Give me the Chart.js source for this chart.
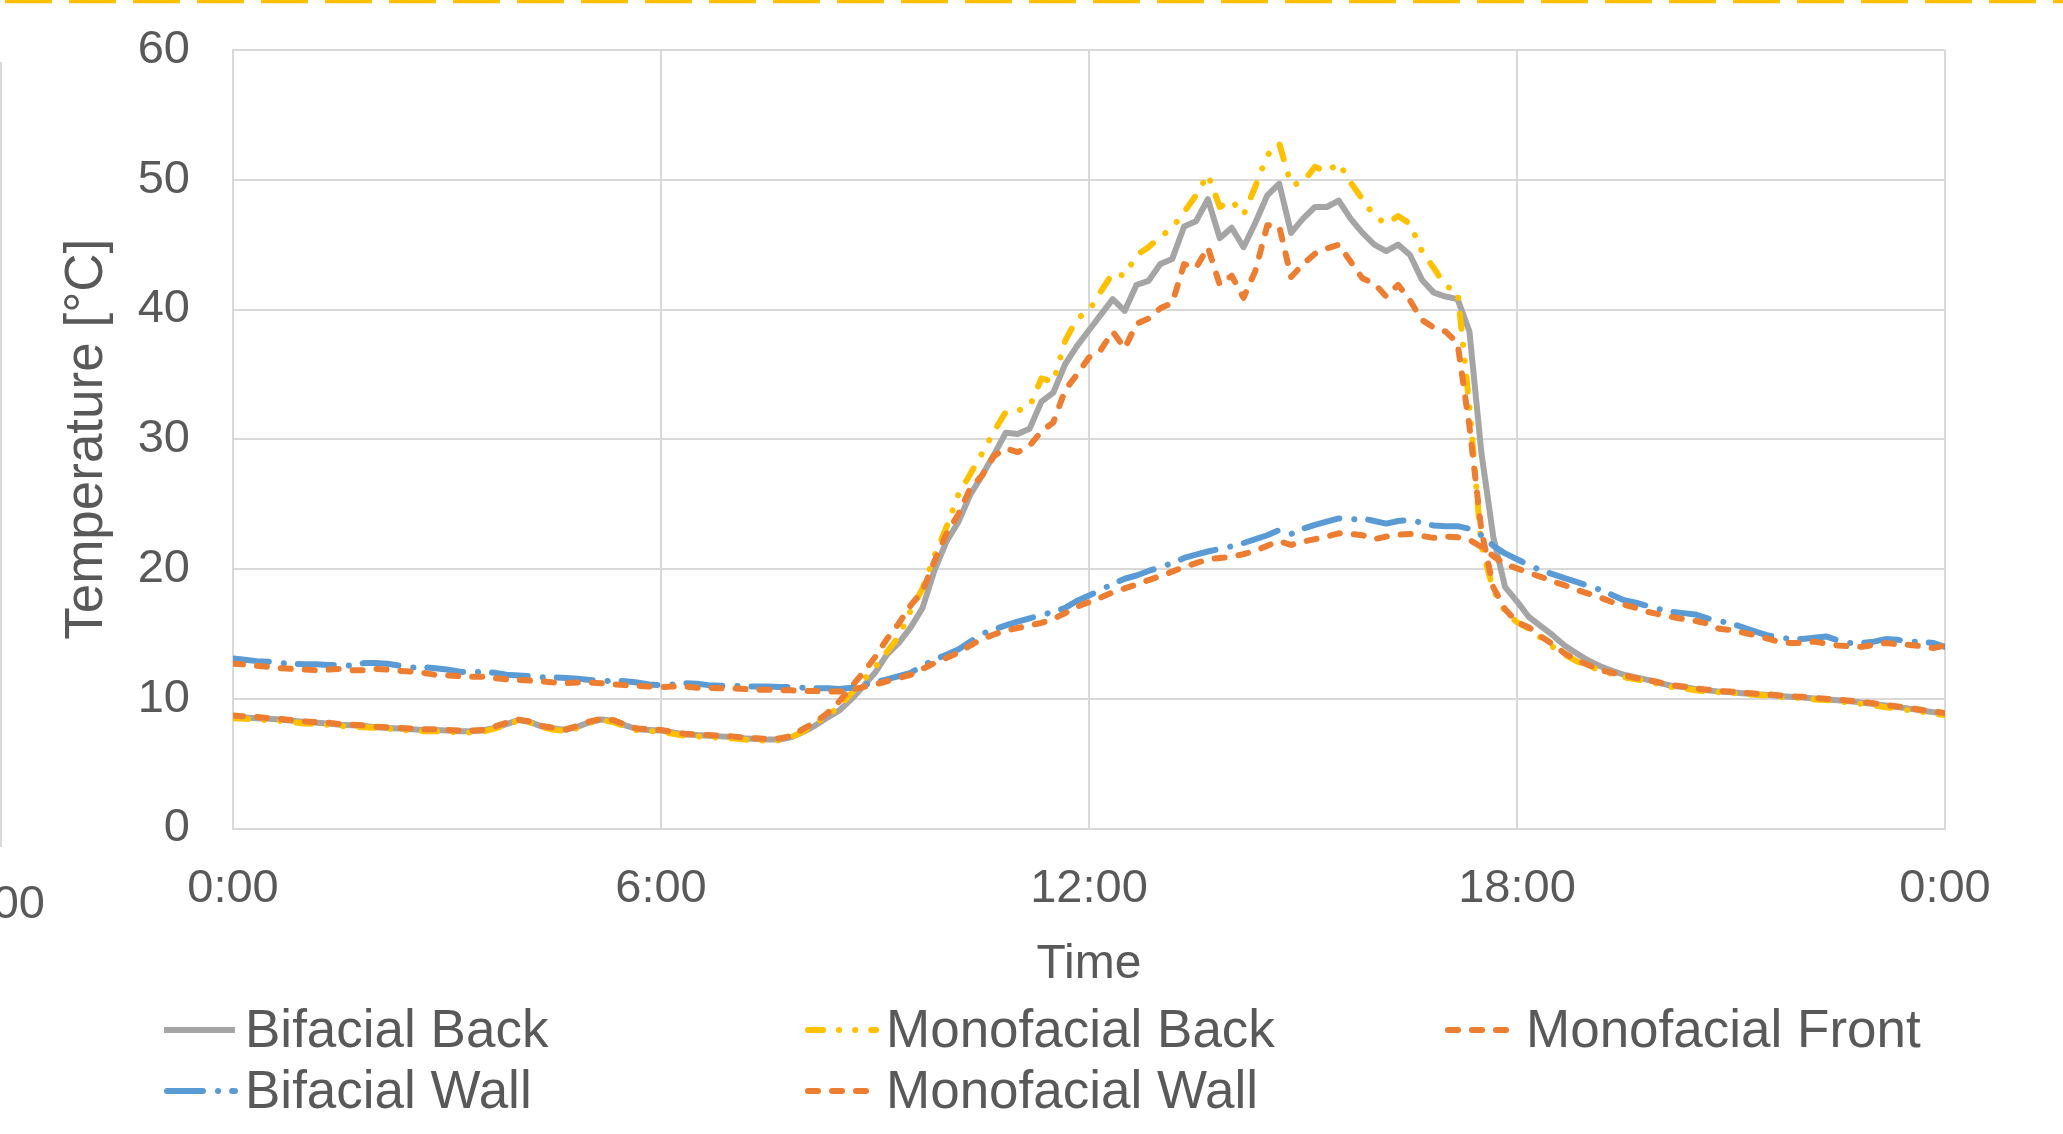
<!DOCTYPE html>
<html>
<head>
<meta charset="utf-8">
<title>Module temperatures</title>
<script src="https://cdn.jsdelivr.net/npm/chart.js@4.4.1/dist/chart.umd.min.js"></script>
<style>
  html, body { margin: 0; padding: 0; background: #ffffff; }
  #chart-box { width: 2063px; height: 1134px; }
</style>
</head>
<body>
<div id="chart-box"><canvas id="myChart" width="2063" height="1134"></canvas></div>
<script>
const ctx = document.querySelector('#myChart');

// one reading every 10 minutes, 0:00 -> 24:00
const STEP_MINUTES = 10;
const tickLabels = ['0:00', '6:00', '12:00', '18:00', '0:00'];
const seriesNames = ['Bifacial Back', 'Monofacial Back', 'Monofacial Front',
  'Bifacial Wall', 'Monofacial Wall'];

const bifacialBack = [
  8.6, 8.55, 8.5, 8.45, 8.4, 8.3, 8.2, 8.15, 8.1, 8.0, 7.95, 7.9,
  7.8, 7.75, 7.7, 7.65, 7.6, 7.6, 7.55, 7.5, 7.5, 7.55, 7.75, 8.05,
  8.35, 8.2, 7.85, 7.7, 7.6, 7.85, 8.2, 8.4, 8.3, 7.95, 7.65, 7.6,
  7.55, 7.4, 7.25, 7.2, 7.15, 7.1, 7.05, 6.95, 6.9, 6.85, 6.85, 7.05,
  7.45, 7.95, 8.55, 9.1, 9.95, 10.95, 12.0, 13.4, 14.3, 15.5, 17.0, 19.9,
  22.1, 23.6, 25.7, 27.2, 28.8, 30.5, 30.4, 30.8, 32.9, 33.6, 35.8, 37.2,
  38.4, 39.6, 40.8, 39.9, 41.9, 42.2, 43.5, 43.9, 46.4, 46.8, 48.5, 45.5,
  46.3, 44.8, 46.7, 48.8, 49.7, 45.9, 47.0, 47.9, 47.9, 48.4, 47.0, 45.9,
  45.0, 44.5, 45.0, 44.2, 42.3, 41.3, 41.0, 40.8, 38.3, 29.0, 22.5, 18.6,
  17.5, 16.3, 15.6, 14.9, 14.1, 13.5, 12.95, 12.5, 12.15, 11.85, 11.65, 11.45,
  11.2, 11.0, 10.9, 10.75, 10.65, 10.55, 10.5, 10.42, 10.35, 10.3, 10.22, 10.15,
  10.1, 10.02, 9.95, 9.88, 9.8, 9.7, 9.6, 9.48, 9.36, 9.24, 9.1, 8.97,
  8.83,
];

const monofacialBack = [
  8.5, 8.45, 8.4, 8.35, 8.3, 8.2, 8.1, 8.05, 8.0, 7.9, 7.85, 7.8,
  7.75, 7.7, 7.6, 7.55, 7.5, 7.5, 7.45, 7.4, 7.4, 7.45, 7.7, 8.0,
  8.3, 8.15, 7.8, 7.6, 7.5, 7.75, 8.15, 8.35, 8.2, 7.85, 7.55, 7.5,
  7.45, 7.3, 7.15, 7.1, 7.05, 7.0, 6.95, 6.85, 6.8, 6.75, 6.8, 7.05,
  7.5, 8.1, 8.7, 9.4, 10.4, 11.4, 12.4, 13.6, 14.8, 16.8, 18.5, 21.0,
  23.2, 25.7, 27.3, 28.9, 30.6, 32.1, 32.2, 32.5, 34.7, 34.4, 37.6, 39.3,
  39.9, 41.4, 42.8, 42.6, 44.2, 44.8, 45.6, 46.3, 47.5, 48.8, 50.4, 47.9,
  48.4, 47.3, 49.5, 51.9, 52.8, 49.6, 49.8, 51.0, 50.6, 51.3, 49.8, 48.5,
  47.2, 46.6, 47.2, 46.6, 44.5, 43.2, 41.8, 41.4, 32.5, 21.8, 18.4, 16.7,
  15.9, 15.4, 14.7, 14.0, 13.4, 12.9, 12.5, 12.2, 11.9, 11.65, 11.5, 11.35,
  11.1, 10.9, 10.8, 10.65, 10.55, 10.5, 10.45, 10.35, 10.3, 10.25, 10.15, 10.1,
  10.05, 9.95, 9.9, 9.8, 9.7, 9.6, 9.5, 9.35, 9.25, 9.1, 9.0, 8.85,
  8.75,
];

const monofacialFront = [
  8.7, 8.65, 8.6, 8.5, 8.45, 8.35, 8.25, 8.2, 8.15, 8.05, 8.0, 7.95,
  7.85, 7.8, 7.75, 7.7, 7.65, 7.65, 7.6, 7.55, 7.55, 7.6, 7.85, 8.15,
  8.4, 8.25, 7.9, 7.75, 7.65, 7.9, 8.25, 8.45, 8.35, 8.0, 7.7, 7.65,
  7.6, 7.45, 7.3, 7.25, 7.2, 7.15, 7.1, 7.0, 6.95, 6.9, 6.95, 7.15,
  7.7, 8.2, 8.9, 9.8, 10.9, 12.0, 13.2, 14.6, 15.8, 17.2, 18.3, 20.6,
  22.7, 24.2, 26.2, 27.2, 28.7, 29.3, 29.0, 29.5, 30.6, 31.3, 33.8, 35.0,
  36.3, 36.9, 38.3, 37.0, 38.9, 39.3, 40.1, 40.5, 43.5, 43.2, 44.8, 41.9,
  42.6, 40.9, 43.0, 46.5, 46.4, 42.5, 43.5, 44.3, 44.7, 45.0, 43.7, 42.4,
  42.0, 41.0, 41.9, 40.7, 39.2, 38.6, 38.3, 37.4, 31.0, 23.0, 18.6, 16.9,
  15.9, 15.5, 14.8, 14.2, 13.5, 13.0, 12.6, 12.2, 12.0, 11.8, 11.6, 11.45,
  11.25, 11.05, 10.95, 10.8, 10.7, 10.6, 10.55, 10.47, 10.4, 10.35, 10.27, 10.2,
  10.15, 10.07, 10.0, 9.93, 9.85, 9.75, 9.65, 9.53, 9.41, 9.29, 9.15, 9.02,
  8.9,
];

const bifacialWall = [
  13.1, 13.0, 12.9, 12.85, 12.75, 12.7, 12.65, 12.65, 12.6, 12.6, 12.55, 12.75,
  12.75, 12.7, 12.55, 12.4, 12.45, 12.35, 12.25, 12.1, 12.0, 12.1, 12.0, 11.85,
  11.8, 11.75, 11.65, 11.65, 11.6, 11.55, 11.45, 11.35, 11.4, 11.35, 11.25, 11.1,
  11.05, 11.1, 11.2, 11.15, 11.05, 11.0, 11.0, 10.95, 10.95, 10.95, 10.9, 10.9,
  10.85, 10.8, 10.8, 10.75, 10.85, 11.05, 11.25, 11.5, 11.75, 12.0, 12.55, 13.0,
  13.4, 13.8, 14.4, 15.0, 15.35, 15.65, 15.95, 16.2, 16.45, 16.7, 17.0, 17.55,
  17.95, 18.4, 18.85, 19.25, 19.5, 19.85, 20.15, 20.45, 20.85, 21.1, 21.35, 21.55,
  21.75, 22.0, 22.3, 22.6, 23.0, 22.7, 23.1, 23.4, 23.65, 23.9, 23.8, 23.9,
  23.7, 23.5, 23.7, 23.8, 23.55, 23.35, 23.3, 23.3, 23.1, 22.6, 21.8, 21.2,
  20.75, 20.3, 19.9, 19.6, 19.3, 19.0, 18.7, 18.4, 18.0, 17.6, 17.4, 17.15,
  16.9, 16.7, 16.6, 16.5, 16.2, 16.0, 15.8, 15.5, 15.2, 14.9, 14.75, 14.6,
  14.6, 14.7, 14.8, 14.5, 14.3, 14.3, 14.4, 14.6, 14.55, 14.4, 14.4, 14.3,
  14.0,
];

const monofacialWall = [
  12.7, 12.65, 12.55, 12.45, 12.35, 12.3, 12.25, 12.2, 12.25, 12.3, 12.2, 12.2,
  12.3, 12.25, 12.15, 12.1, 12.0, 11.85, 11.8, 11.75, 11.7, 11.7, 11.6, 11.5,
  11.45, 11.4, 11.35, 11.25, 11.2, 11.25, 11.25, 11.2, 11.1, 11.05, 11.0, 10.95,
  10.9, 10.95, 10.95, 10.85, 10.85, 10.8, 10.8, 10.75, 10.7, 10.7, 10.65, 10.65,
  10.6, 10.6, 10.55, 10.55, 10.7, 10.9, 11.1, 11.35, 11.6, 11.85, 12.3, 12.75,
  13.15, 13.55, 14.1, 14.6, 14.95, 15.25, 15.45, 15.65, 15.85, 16.15, 16.6, 17.1,
  17.45, 17.8, 18.2, 18.5, 18.8, 19.15, 19.45, 19.8, 20.15, 20.45, 20.75, 20.85,
  20.95, 21.15, 21.4, 21.8, 22.15, 21.85, 22.1, 22.3, 22.5, 22.75, 22.7, 22.6,
  22.3, 22.5, 22.65, 22.7, 22.55, 22.4, 22.5, 22.45, 22.25, 21.7, 21.0, 20.35,
  20.05, 19.7, 19.4, 19.05, 18.75, 18.4, 18.1, 17.8, 17.45, 17.25, 17.0, 16.7,
  16.5, 16.3, 16.15, 16.0, 15.8, 15.4, 15.3, 15.1, 14.9, 14.65, 14.4, 14.3,
  14.3, 14.4, 14.25, 14.1, 14.05, 14.0, 14.15, 14.3, 14.2, 14.15, 14.05, 13.9,
  14.1,
];

const COLOR_GREY = '#A5A5A5';
const COLOR_GOLD = '#FFC000';
const COLOR_ORANGE = '#ED7D31';
const COLOR_BLUE = '#5B9BD5';
const COLOR_TEXT = '#595959';
const COLOR_GRID = '#D9D9D9';
const FONT_FAMILY = '"Liberation Sans", Arial, sans-serif';
const LINE_WIDTH = 6;

const DASH_SOLID = [];
const DASH_LONG_DOT_DOT = [15, 16, 0.1, 16, 0.1, 16];
const DASH_LONG_DOT = [36, 15, 0.1, 14];
const DASH_SHORT = [10, 14];

/**
 * Turns a list of readings into {x, y} points, x in minutes.
 * @param {number[]} values Temperatures.
 * @return {Object[]} Points for the line.
 */
function toPoints(values) {
  return values.map((v, i) => ({x: i * STEP_MINUTES, y: v}));
}

/**
 * Builds one line dataset.
 * @return {Object} Chart.js dataset.
 */
function buildDataset(label, values, color, dash, order) {
  return {
    label: label,
    data: toPoints(values),
    borderColor: color,
    backgroundColor: color,
    borderWidth: LINE_WIDTH,
    borderDash: dash,
    borderCapStyle: dash.length ? 'round' : 'butt',
    borderJoinStyle: 'round',
    pointRadius: 0,
    pointHoverRadius: 0,
    tension: 0,
    fill: false,
    order: order,
  };
}

// legend is laid out in fixed columns like the original figure
const legendPlugin = {
  id: 'columnLegend',
  afterDraw(chart) {
    const c = chart.ctx;
    const cols = [164, 805, 1445];
    const rows = [1030, 1091];
    c.save();
    c.font = '53px ' + FONT_FAMILY;
    c.textBaseline = 'middle';
    c.fillStyle = COLOR_TEXT;
    chart.data.datasets.forEach((ds, i) => {
      const x = cols[i % 3];
      const y = rows[Math.floor(i / 3)];
      c.save();
      c.strokeStyle = ds.borderColor;
      c.lineWidth = LINE_WIDTH;
      c.lineCap = ds.borderCapStyle;
      c.setLineDash(ds.borderDash);
      c.beginPath();
      c.moveTo(x + (ds.borderDash.length ? 3 : 0), y);
      c.lineTo(x + 71, y);
      c.stroke();
      c.restore();
      c.fillText(ds.label, x + 81, y + 2);
    });
    c.restore();
  },
};

// bits of the surrounding figure that show at the edges of the crop
const framePlugin = {
  id: 'frame',
  afterDraw(chart) {
    const c = chart.ctx;
    c.save();
    c.strokeStyle = COLOR_GOLD;
    c.lineWidth = 3.5;
    c.setLineDash([47, 17]);
    c.beginPath();
    c.moveTo(5, 1.5);
    c.lineTo(chart.width, 1.5);
    c.stroke();
    c.setLineDash([]);
    c.strokeStyle = COLOR_GRID;
    c.lineWidth = 2;
    c.beginPath();
    c.moveTo(1, 62);
    c.lineTo(1, 847);
    c.stroke();
    c.fillStyle = COLOR_TEXT;
    c.font = '47px ' + FONT_FAMILY;
    c.textAlign = 'right';
    c.textBaseline = 'middle';
    c.fillText('00', 45, 905);
    c.restore();
  },
};

/**
 * Configures the chart.
 * @return {Object} Chart configuration.
 */
function getChartConfiguration() {
  return {
    type: 'line',
    data: {
      datasets: [
        buildDataset(seriesNames[0], bifacialBack, COLOR_GREY, DASH_SOLID, 4),
        buildDataset(seriesNames[1], monofacialBack, COLOR_GOLD, DASH_LONG_DOT_DOT, 3),
        buildDataset(seriesNames[2], monofacialFront, COLOR_ORANGE, DASH_SHORT, 2),
        buildDataset(seriesNames[3], bifacialWall, COLOR_BLUE, DASH_LONG_DOT, 1),
        buildDataset(seriesNames[4], monofacialWall, COLOR_ORANGE, DASH_SHORT, 0),
      ],
    },
    options: {
      responsive: false,
      devicePixelRatio: 1,
      animation: false,
      layout: {
        padding: {top: 50, right: 118, bottom: 134, left: 0},
      },
      plugins: {
        legend: {display: false},
        tooltip: {enabled: false},
      },
      scales: {
        x: {
          type: 'linear',
          min: 0,
          max: 1440,
          afterFit: (scale) => {
            scale.height = 171.5;
          },
          ticks: {
            stepSize: 360,
            padding: 32,
            color: COLOR_TEXT,
            font: {family: FONT_FAMILY, size: 47},
            callback: (value) => tickLabels[value / 360],
          },
          grid: {color: COLOR_GRID, lineWidth: 2, drawTicks: false},
          border: {color: COLOR_GRID, width: 2},
          title: {
            display: true,
            text: 'Time',
            color: COLOR_TEXT,
            font: {family: FONT_FAMILY, size: 48},
            padding: {top: 0, bottom: 6},
          },
        },
        y: {
          min: 0,
          max: 60,
          afterFit: (scale) => {
            scale.width = 233;
          },
          ticks: {
            stepSize: 10,
            padding: 0,
            color: COLOR_TEXT,
            font: {family: FONT_FAMILY, size: 47},
          },
          // the label gap is made with an invisible tick mark so the
          // tick padding does not push the plot area down
          grid: {
            color: COLOR_GRID,
            lineWidth: 2,
            drawTicks: true,
            tickLength: 43,
            tickColor: 'rgba(0, 0, 0, 0)',
          },
          border: {color: COLOR_GRID, width: 2},
          title: {
            display: true,
            text: 'Temperature [°C]',
            color: COLOR_TEXT,
            font: {family: FONT_FAMILY, size: 53},
            padding: {top: 56, bottom: 0},
          },
        },
      },
    },
    plugins: [legendPlugin, framePlugin],
  };
}

new Chart(ctx, getChartConfiguration());
</script>
</body>
</html>
